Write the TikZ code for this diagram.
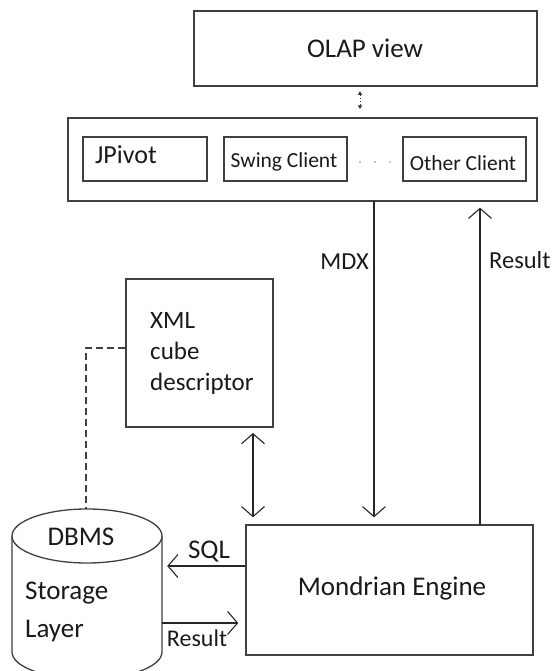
\documentclass[tikz,border=0pt]{standalone}
\usepackage{fontspec}
\setmainfont{Carlito}
\usetikzlibrary{arrows.meta}
\definecolor{ln}{HTML}{404040}
\definecolor{tx}{HTML}{1A1A1A}
\tikzset{
  box/.style={draw=ln, line width=1.4pt, inner sep=0pt, fill=white},
  lbl/.style={text=tx, inner sep=0pt},
  conn/.style={draw=black!85, line width=1.2pt},
  barb/.style={-{Straight Barb[length=10pt,width=23pt,line width=1.1pt]}},
  dbarb/.style={{Straight Barb[length=10pt,width=23pt,line width=1.1pt]}-{Straight Barb[length=10pt,width=23pt,line width=1.1pt]}},
}
\begin{document}
\begin{tikzpicture}[x=1pt,y=-1pt]
\useasboundingbox (0,0) rectangle (553,671);
% OLAP view
\node[box, minimum width=343pt, minimum height=75pt] (olap) at (365.5,48.5) {};
\node[lbl, font=\fontsize{27}{30}\selectfont] (olapt) at (365,48) {OLAP view};
% client container
\node[box, minimum width=469pt, minimum height=83pt] (clients) at (302.5,159.5) {};
\node[box, minimum width=124pt, minimum height=44pt] (jp) at (145,159) {};
\node[lbl, font=\fontsize{26}{28}\selectfont, anchor=west] (jpt) at (95,155) {JPivot};
\node[box, minimum width=123pt, minimum height=44pt] (sw) at (285.5,159) {};
\node[lbl, font=\fontsize{21.5}{24}\selectfont] (swt) at (284,162) {Swing Client};
\node[box, minimum width=123pt, minimum height=44pt] (oc) at (464.5,159) {};
\node[lbl, font=\fontsize{21.5}{24}\selectfont] (oct) at (463,163) {Other Client};
\foreach \i/\x in {1/360,2/375,3/390}{\fill[black!45] (\x,162) circle (0.9pt);}
% dotted double arrow
\coordinate (dd) at (360,86);
\draw[black!80, line width=1pt, dotted, {Latex[length=4pt,width=5pt]}-{Latex[length=4pt,width=5pt]}, shorten <=5pt, shorten >=8pt] (dd) -- (dd |- clients.north);
% XML box
\node[box, minimum width=147pt, minimum height=148pt] (xml) at (199.5,353) {};
\node[lbl, font=\fontsize{25}{31}\selectfont, align=left, anchor=west] (xmlt) at (150,353) {XML\\cube\\descriptor};
% Mondrian
\node[box, minimum width=287pt, minimum height=130pt] (me) at (389.5,590) {};
\node[lbl, font=\fontsize{27}{30}\selectfont] (met) at (392,588) {Mondrian Engine};
% storage cylinder
\node[minimum width=150pt, minimum height=116pt, inner sep=0pt] (db) at (87,594) {};
\draw[ln, line width=1.3pt, fill=white] (12,536) -- (12,652) arc[start angle=180, end angle=0, x radius=75, y radius=27] -- (162,536);
\draw[ln, line width=1.3pt, fill=white] (87,536) ellipse [x radius=75, y radius=27];
\node[lbl, font=\fontsize{27}{30}\selectfont] (dbms) at (81,537) {DBMS};
\node[lbl, font=\fontsize{27}{38}\selectfont, align=left, anchor=west] (stl) at (25,612) {Storage\\Layer};
% connectors
\coordinate (mdxs) at (374,201);
\draw[conn, barb, shorten >=7pt] (mdxs) -- (mdxs |- me.north);
\node[lbl, font=\fontsize{24.5}{28}\selectfont, anchor=east] (mdx) at (369,262) {MDX};
\coordinate (ress) at (480,525);
\draw[conn, barb, shorten >=6pt] (ress) -- (ress |- clients.south);
\node[lbl, font=\fontsize{24.5}{28}\selectfont, anchor=west] (res1) at (489,260) {Result};
\coordinate (xa) at (253,427);
\draw[conn, dbarb, shorten <=6pt, shorten >=7pt] (xa) -- (xa |- me.north);
\coordinate (dsh) at (86,348);
\draw[ln, line width=1.2pt, dash pattern=on 7pt off 4pt] (xml.west |- dsh) -- (dsh) -- (86,509);
\coordinate (sqly) at (0,566);
\draw[conn, barb, shorten >=5pt] (me.west |- sqly) -- (db.east |- sqly);
\node[lbl, font=\fontsize{27}{30}\selectfont] (sql) at (209,552) {SQL};
\coordinate (resy) at (0,623);
\draw[conn, barb, shorten >=7pt] (db.east |- resy) -- (me.west |- resy);
\node[lbl, font=\fontsize{24}{28}\selectfont] (res2) at (197,638) {Result};
\end{tikzpicture}
\end{document}
